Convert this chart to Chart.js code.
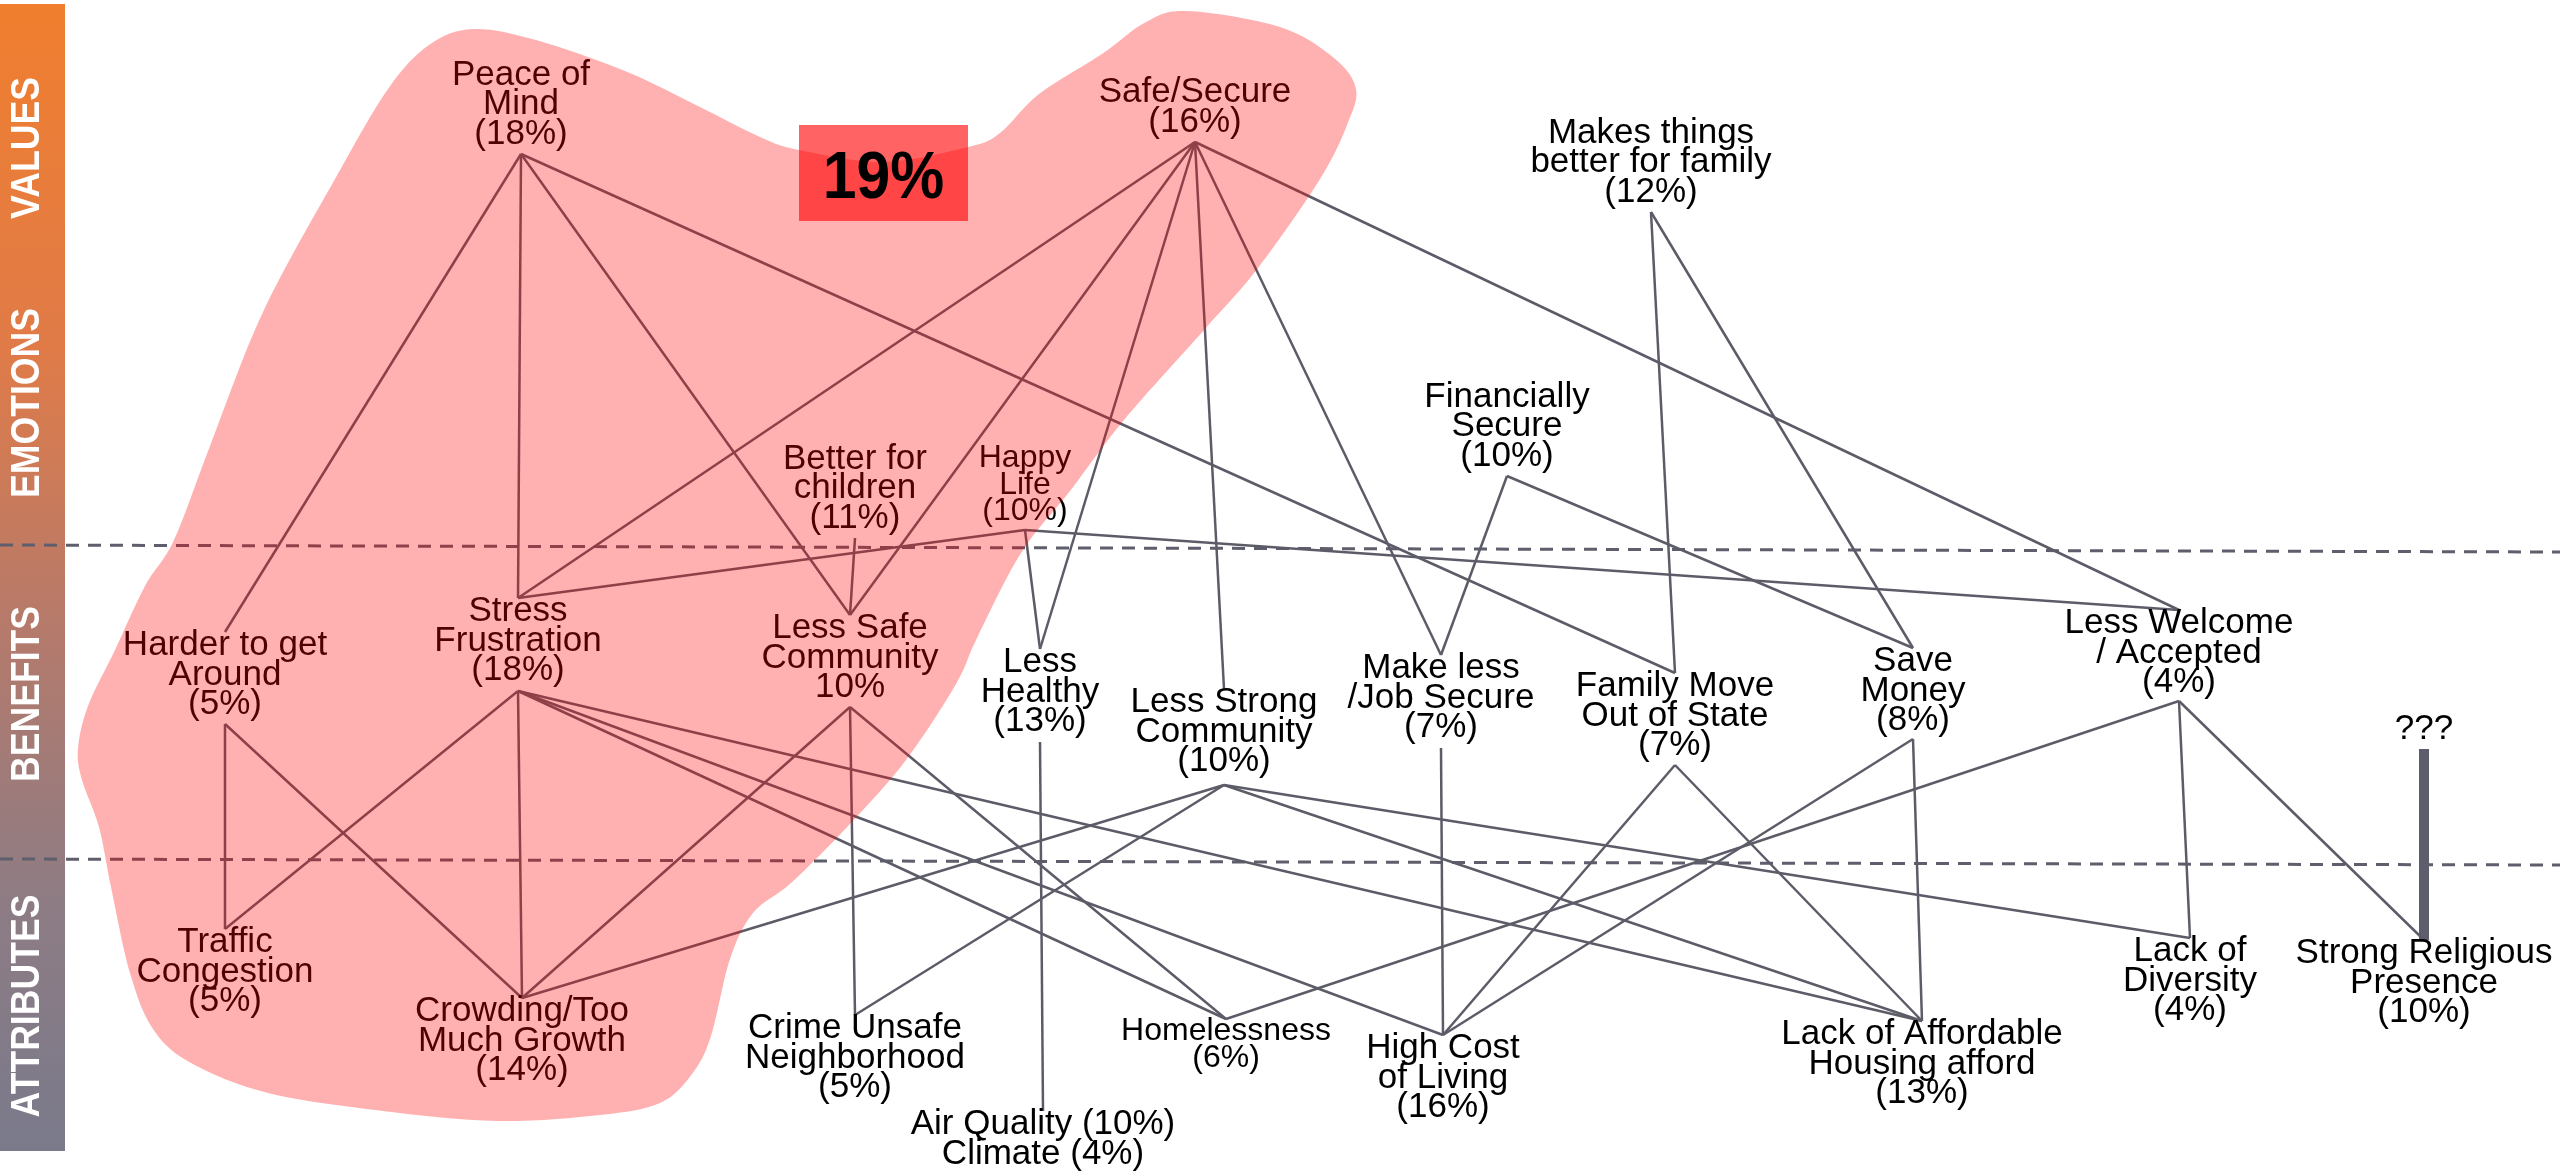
<!DOCTYPE html>
<html>
<head>
<meta charset="utf-8">
<title>Ladder map</title>
<script src="https://cdn.jsdelivr.net/npm/chart.js@4.4.1/dist/chart.umd.min.js"></script>
<style>
  html, body { margin: 0; padding: 0; background: #fff; overflow: hidden; }
  canvas { display: block; }
</style>
</head>
<body>
<canvas id="ladder-chart" width="2560" height="1174"></canvas>
<script>
//--------------------------------------------- Data ----------------------------------------------------------

var nodeIds = ['peace', 'safe', 'betterFamily', 'children', 'happy', 'financial',
	'harder', 'stress', 'lessSafe', 'lessHealthy', 'lessStrong', 'makeLess', 'moveOut', 'saveMoney', 'lessWelcome', 'unknown',
	'traffic', 'crowding', 'crime', 'air', 'homeless', 'highCost', 'housing', 'diversity', 'religious'];

var nodeLabels = [
	['Peace of', 'Mind', '(18%)'],
	['Safe/Secure', '(16%)'],
	['Makes things', 'better for family', '(12%)'],
	['Better for', 'children', '(11%)'],
	['Happy', 'Life', '(10%)'],
	['Financially', 'Secure', '(10%)'],
	['Harder to get', 'Around', '(5%)'],
	['Stress', 'Frustration', '(18%)'],
	['Less Safe', 'Community', '10%'],
	['Less', 'Healthy', '(13%)'],
	['Less Strong', 'Community', '(10%)'],
	['Make less', '/Job Secure', '(7%)'],
	['Family Move', 'Out of State', '(7%)'],
	['Save', 'Money', '(8%)'],
	['Less Welcome', '/ Accepted', '(4%)'],
	['???'],
	['Traffic', 'Congestion', '(5%)'],
	['Crowding/Too', 'Much Growth', '(14%)'],
	['Crime Unsafe', 'Neighborhood', '(5%)'],
	['Air Quality (10%)', 'Climate (4%)'],
	['Homelessness', '(6%)'],
	['High Cost', 'of Living', '(16%)'],
	['Lack of Affordable', 'Housing afford', '(13%)'],
	['Lack of', 'Diversity', '(4%)'],
	['Strong Religious', 'Presence', '(10%)']
];

// where each node sits on the map (x across, y down), and where links attach above / below it
var nodeX      = [521, 1195, 1651, 855, 1025, 1507, 225, 518, 850, 1040, 1224, 1441, 1675, 1913, 2179, 2424, 225, 522, 855, 1043, 1226, 1443, 1922, 2190, 2424];
var nodeTop    = [null, null, null, null, null, null, 632, 598, 615, 649, 689, 655, 673, 648, 610, null, 929, 998, 1015, 1111, 1019, 1035, 1021, 938, 940];
var nodeBottom = [154, 142, 212, 538, 530, 476, 724, 691, 707, 742, 785, 748, 765, 739, 701, 749, null, null, null, null, null, null, null, null, null];

var links = [
	['peace', 'harder'], ['peace', 'stress'], ['peace', 'lessSafe'], ['peace', 'moveOut'],
	['safe', 'stress'], ['safe', 'lessSafe'], ['safe', 'lessHealthy'], ['safe', 'lessStrong'], ['safe', 'makeLess'], ['safe', 'lessWelcome'],
	['betterFamily', 'moveOut'], ['betterFamily', 'saveMoney'],
	['children', 'lessSafe'],
	['happy', 'stress'], ['happy', 'lessHealthy'], ['happy', 'lessWelcome'],
	['financial', 'makeLess'], ['financial', 'saveMoney'],
	['harder', 'traffic'], ['harder', 'crowding'],
	['stress', 'traffic'], ['stress', 'crowding'], ['stress', 'homeless'], ['stress', 'highCost'], ['stress', 'housing'],
	['lessSafe', 'crowding'], ['lessSafe', 'crime'], ['lessSafe', 'homeless'],
	['lessHealthy', 'air'],
	['lessStrong', 'crowding'], ['lessStrong', 'crime'], ['lessStrong', 'diversity'], ['lessStrong', 'housing'],
	['makeLess', 'highCost'],
	['moveOut', 'highCost'], ['moveOut', 'housing'],
	['saveMoney', 'highCost'], ['saveMoney', 'housing'],
	['lessWelcome', 'homeless'], ['lessWelcome', 'diversity'], ['lessWelcome', 'religious']
];
var strongLinks = [['unknown', 'religious']];

var bandNames   = ['VALUES', 'EMOTIONS', 'BENEFITS', 'ATTRIBUTES'];
var bandCentres = [148, 403, 694, 1006];
// level dividers: y at the left edge and at the right edge
var dividerLeft  = [545, 859];
var dividerRight = [552, 865];

var highlightText = '19%';
var highlightBox  = [799, 125, 968, 221];

// outline of the highlighted cluster
var clusterX = [383, 268, 191, 153, 130, 111, 99, 82, 78, 88, 115, 145, 174, 210, 263, 335, 388, 429, 473, 536, 625, 700, 760, 799, 883, 968, 1000, 1039, 1102, 1146, 1187, 1280, 1334, 1356, 1347, 1320, 1258, 1204, 1124, 1070, 1021, 977, 956, 906, 849, 791, 753, 730, 711, 692, 660, 600, 497];
var clusterY = [1111, 1093, 1063, 1029, 973, 887, 827, 780, 749, 706, 650, 586, 540, 446, 312, 179, 89, 45, 29, 40, 71, 107, 137, 150, 162, 147, 133, 94, 54, 22, 11, 27, 58, 89, 125, 179, 268, 330, 420, 491, 553, 638, 684, 760, 825, 883, 913, 959, 1036, 1074, 1103, 1115, 1121];

//--------------------------------------------- Styling ----------------------------------------------------------

var FONT = '"Liberation Sans", Arial, sans-serif';
var LINK_COLOR = '#5c5c68';
var smallNodes = { happy: 32, homeless: 32 };

function nodeIndex(id) { return nodeIds.indexOf(id); }

function linkData(pair) {
	var a = nodeIndex(pair[0]), b = nodeIndex(pair[1]);
	return [{ x: nodeX[a], y: nodeBottom[a] }, { x: nodeX[b], y: nodeTop[b] }];
}

var datasets = [];
links.forEach(function(pair) {
	datasets.push({
		data: linkData(pair),
		showLine: true,
		borderColor: LINK_COLOR,
		borderWidth: 2.5,
		pointRadius: 0
	});
});
strongLinks.forEach(function(pair) {
	datasets.push({
		data: linkData(pair),
		showLine: true,
		borderColor: '#5d5d6b',
		borderWidth: 10,
		borderCapStyle: 'butt',
		pointRadius: 0
	});
});
dividerLeft.forEach(function(y, i) {
	datasets.push({
		data: [{ x: 0, y: y }, { x: 2560, y: dividerRight[i] }],
		showLine: true,
		borderColor: '#5e5e6c',
		borderWidth: 3,
		borderDash: [13, 9],
		pointRadius: 0
	});
});

//--------------------------------------------- Plugin ----------------------------------------------------------

var ladderPlugin = {
	id: 'ladder',
	beforeDatasetsDraw: function(chart) {
		var ctx = chart.ctx, sx = chart.scales.x, sy = chart.scales.y;
		// level bar on the left
		var top = sy.getPixelForValue(4), bottom = sy.getPixelForValue(1151);
		var g = ctx.createLinearGradient(0, top, 0, bottom);
		g.addColorStop(0, '#f07e2e');
		g.addColorStop(0.3, '#e07b48');
		g.addColorStop(0.55, '#b47a6c');
		g.addColorStop(0.78, '#8e7c84');
		g.addColorStop(1, '#7a7a8b');
		ctx.save();
		ctx.fillStyle = g;
		ctx.fillRect(sx.getPixelForValue(0), top, sx.getPixelForValue(65) - sx.getPixelForValue(0), bottom - top);
		ctx.fillStyle = '#ffffff';
		ctx.font = 'bold 40px ' + FONT;
		ctx.textAlign = 'center';
		ctx.textBaseline = 'middle';
		bandNames.forEach(function(name, i) {
			ctx.save();
			ctx.translate(sx.getPixelForValue(28), sy.getPixelForValue(bandCentres[i]));
			ctx.rotate(-Math.PI / 2);
			ctx.scale(0.89, 1);
			ctx.fillText(name, 0, 0);
			ctx.restore();
		});
		ctx.restore();
	},
	afterDatasetsDraw: function(chart) {
		var ctx = chart.ctx, sx = chart.scales.x, sy = chart.scales.y;
		ctx.save();
		ctx.fillStyle = '#000000';
		ctx.textAlign = 'center';
		ctx.textBaseline = 'alphabetic';
		nodeIds.forEach(function(id, i) {
			var size = smallNodes[id] || 35;
			var step = size * 0.84;
			var lines = nodeLabels[i];
			var first;
			if (nodeTop[i] !== null) {
				first = sy.getPixelForValue(nodeTop[i]) + size * 0.66;
			} else {
				first = sy.getPixelForValue(nodeBottom[i]) - size * 0.3 - step * (lines.length - 1);
			}
			ctx.font = size + 'px ' + FONT;
			lines.forEach(function(t, k) {
				ctx.fillText(t, sx.getPixelForValue(nodeX[i]), first + step * k);
			});
		});

		// translucent cluster over everything it covers
		var pts = clusterX.map(function(x, i) {
			return { x: sx.getPixelForValue(x), y: sy.getPixelForValue(clusterY[i]) };
		});
		var n = pts.length;
		ctx.beginPath();
		ctx.moveTo(pts[0].x, pts[0].y);
		for (var i = 0; i < n; i++) {
			var p0 = pts[(i - 1 + n) % n], p1 = pts[i], p2 = pts[(i + 1) % n], p3 = pts[(i + 2) % n];
			ctx.bezierCurveTo(
				p1.x + (p2.x - p0.x) / 6, p1.y + (p2.y - p0.y) / 6,
				p2.x - (p3.x - p1.x) / 6, p2.y - (p3.y - p1.y) / 6,
				p2.x, p2.y);
		}
		ctx.closePath();
		ctx.fillStyle = 'rgba(255, 0, 0, 0.31)';
		ctx.fill();

		// highlight box sits on top of the cluster
		var x0 = sx.getPixelForValue(highlightBox[0]), y0 = sy.getPixelForValue(highlightBox[1]);
		var x1 = sx.getPixelForValue(highlightBox[2]), y1 = sy.getPixelForValue(highlightBox[3]);
		ctx.fillStyle = 'rgba(255, 0, 0, 0.61)';
		ctx.fillRect(x0, y0, x1 - x0, y1 - y0);
		ctx.fillStyle = '#000000';
		ctx.font = 'bold 66px ' + FONT;
		ctx.textBaseline = 'alphabetic';
		ctx.translate((x0 + x1) / 2, y0 + 73);
		ctx.scale(0.92, 1);
		ctx.fillText(highlightText, 0, 0);
		ctx.restore();
	}
};

//--------------------------------------------- Chart ----------------------------------------------------------

var ctx = document.getElementById('ladder-chart').getContext('2d');
var ladderChart = new Chart(ctx, {
	type: 'scatter',
	data: { datasets: datasets },
	options: {
		responsive: false,
		animation: false,
		layout: { padding: 0 },
		scales: {
			x: { type: 'linear', min: 0, max: 2560, display: false },
			y: { type: 'linear', min: 0, max: 1174, reverse: true, display: false }
		},
		plugins: {
			legend: { display: false },
			tooltip: { enabled: false }
		}
	},
	plugins: [ladderPlugin]
});
</script>
</body>
</html>
